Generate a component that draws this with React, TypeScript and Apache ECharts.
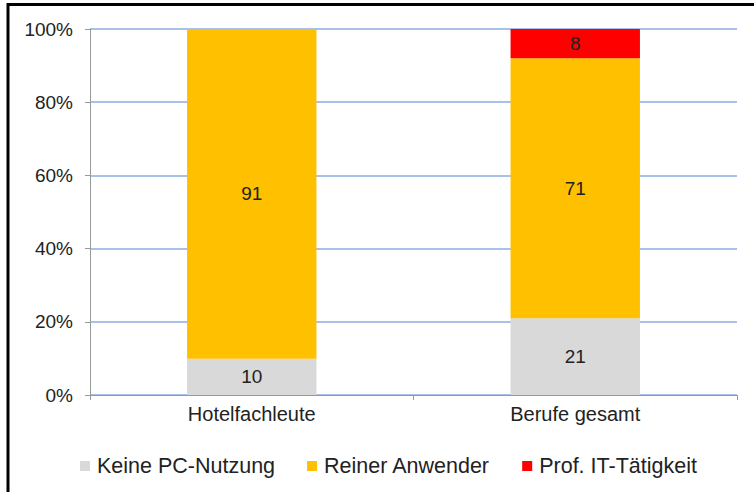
import React, { useEffect, useRef } from "react";
import * as echarts from "echarts";

const categories = ["Hotelfachleute", "Berufe gesamt"];
const seriesNames = ["Keine PC-Nutzung", "Reiner Anwender", "Prof. IT-Tätigkeit"];
const keinePC = [10, 21];
const anwender = [91, 71];
const profIT = [0, 8];
const colors = ["#D9D9D9", "#FFC000", "#FF0000"];
const yTicks = [0, 20, 40, 60, 80, 100];

export default function App() {
  const ref = useRef<HTMLDivElement>(null);
  useEffect(() => {
    if (!ref.current) return;
    const chart = echarts.init(ref.current, undefined, { renderer: "svg" });
    const raw = [keinePC, anwender, profIT];
    const totals = categories.map((_, i) => raw.reduce((s, a) => s + a[i], 0));
    const font = "Liberation Sans, Arial, sans-serif";
    chart.setOption({
      animation: false,
      backgroundColor: "#ffffff",
      graphic: [
        { type: "line", shape: { x1: 8, y1: 3, x2: 8, y2: 492 }, style: { stroke: "#000", lineWidth: 3 } },
        { type: "line", shape: { x1: 7, y1: 4.5, x2: 754, y2: 4.5 }, style: { stroke: "#000", lineWidth: 3 } },
      ],
      grid: { left: 90, right: 17, top: 29, bottom: 97, containLabel: false },
      legend: {
        top: 450,
        left: 75,
        itemWidth: 10,
        itemHeight: 10,
        itemGap: 32,
        icon: "rect",
        textStyle: { fontFamily: font, fontSize: 21.5, color: "#222", padding: [0, 0, 0, 2] },
        data: seriesNames,
      },
      xAxis: {
        type: "category",
        data: categories,
        axisLine: { lineStyle: { color: "#999", width: 1 } },
        axisTick: { show: true, alignWithLabel: false, length: 5, lineStyle: { color: "#999" } },
        axisLabel: { fontFamily: font, fontSize: 20, color: "#222", margin: 9 },
      },
      yAxis: {
        type: "value",
        min: 0,
        max: 100,
        interval: 20,
        axisLine: { show: true, lineStyle: { color: "#999", width: 1 } },
        axisTick: { show: true, length: 5, lineStyle: { color: "#999" } },
        axisLabel: {
          fontFamily: font,
          fontSize: 19,
          color: "#222",
          margin: 17,
          formatter: (v: number) => (yTicks.includes(v) ? v + "%" : ""),
        },
        splitLine: { lineStyle: { color: "#A9C0E8", width: 2 } },
      },
      series: raw.map((arr, si) => ({
        name: seriesNames[si],
        type: "bar",
        stack: "total",
        barWidth: "40%",
        itemStyle: { color: colors[si] },
        label: {
          show: true,
          position: "inside",
          fontFamily: font,
          fontSize: 19,
          color: "#222",
          formatter: (p: any) => (arr[p.dataIndex] > 0 ? String(arr[p.dataIndex]) : ""),
        },
        data: arr.map((v, i) => (v / totals[i]) * 100),
      })),
    });
    return () => chart.dispose();
  }, []);
  return <div ref={ref} style={{ width: 754, height: 492, position: "absolute", left: 0, top: 0 }} />;
}
